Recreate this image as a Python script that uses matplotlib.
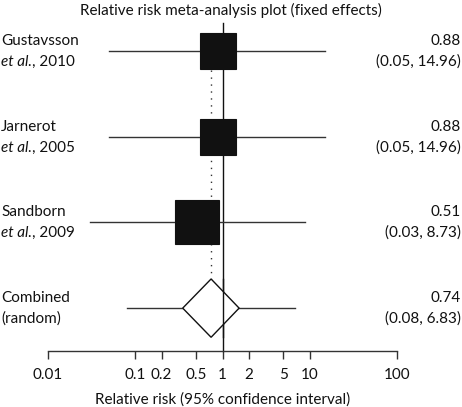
import matplotlib
matplotlib.use("Agg")
import matplotlib.pyplot as plt
import numpy as np

plt.rcParams['font.family'] = ['Lato', 'DejaVu Sans']

study_names = ["Gustavsson", "Jarnerot", "Sandborn", "Combined"]
study_sub = [("et al.", ", 2010"), ("et al.", ", 2005"), ("et al.", ", 2009"), (None, "(random)")]
rr = [0.88, 0.88, 0.51, 0.74]
ci_lo = [0.05, 0.05, 0.03, 0.08]
ci_hi = [14.96, 14.96, 8.73, 6.83]
weights = [29, 29, 42]          # relative weights (box area)
diamond_lo = 0.35
diamond_hi = 1.55
tick_vals = [0.01, 0.1, 0.2, 0.5, 1, 2, 5, 10, 100]
tick_labels = ["0.01", "0.1", "0.2", "0.5", "1", "2", "5", "10", "100"]
title = "Relative risk meta-analysis plot (fixed effects)"
xlabel = "Relative risk (95% confidence interval)"

W, H = 462, 407
fig = plt.figure(figsize=(W / 100, H / 100), dpi=100)
ax_left, ax_right = 48, 397
ax_top, ax_bot = 8, 351
ax = fig.add_axes([ax_left / W, 1 - ax_bot / H, (ax_right - ax_left) / W, (ax_bot - ax_top) / H])
ax.set_xscale('log')
ax.set_xlim(0.01, 100)
ax.set_ylim(3.5, -0.5)
for s in ['top', 'left', 'right']:
    ax.spines[s].set_visible(False)
ax.spines['bottom'].set_color('#333333')
ax.spines['bottom'].set_linewidth(1.0)
ax.set_yticks([])
ax.set_xticks(tick_vals)
ax.set_xticklabels(tick_labels)
ax.minorticks_off()
fs = 11
tc = '#111111'
ax.tick_params(axis='x', direction='out', length=6, width=1.0, color='#333333',
               labelsize=fs, pad=6, labelcolor=tc)
ax.set_xlabel(xlabel, fontsize=fs, labelpad=8, color=tc)

lc = '#333333'
rows = np.arange(len(rr))
# reference line at 1
ax.plot([1, 1], [-0.33, 3.5], color='#111111', lw=1.0, clip_on=False)
# dotted line at pooled estimate
ax.plot([rr[3], rr[3]], [0.22, 3 - 0.34], color='#333333', lw=1.0, ls=(0, (1, 4)))

for i in range(3):
    ax.plot([ci_lo[i], ci_hi[i]], [rows[i], rows[i]], color=lc, lw=1.0)
    side_px = 6.87 * np.sqrt(weights[i])
    ax.plot([rr[i]], [rows[i]], marker='s', color='#111111', markersize=side_px * 0.72,
            markeredgecolor='#111111', markeredgewidth=0.8, zorder=3)

# combined
ax.plot([ci_lo[3], ci_hi[3]], [rows[3], rows[3]], color=lc, lw=1.0)
hh = 0.34
ax.fill([diamond_lo, rr[3], diamond_hi, rr[3], diamond_lo],
        [rows[3], rows[3] - hh, rows[3], rows[3] + hh, rows[3]],
        facecolor='white', edgecolor='#111111', lw=1.0, zorder=3)
ax.plot([1, 1], [rows[3] - hh, rows[3] + hh], color='#111111', lw=1.0, zorder=4)

# text
fig.text(231 / W, 1 - 10 / H, title, ha='center', va='center', fontsize=fs, color=tc)
row_px = [51, 137, 222, 308]
for i in range(4):
    y1 = 1 - (row_px[i] - 10) / H
    y2 = 1 - (row_px[i] + 11) / H
    fig.text(1 / W, y1, study_names[i], ha='left', va='center', fontsize=fs, color=tc)
    it, rest = study_sub[i]
    if it:
        t = fig.text(1 / W, y2, it, ha='left', va='center', fontsize=fs, color=tc, style='italic')
        fig.canvas.draw()
        bb = t.get_window_extent()
        fig.text(bb.x1 / W, y2, rest, ha='left', va='center', fontsize=fs, color=tc)
    else:
        fig.text(1 / W, y2, rest, ha='left', va='center', fontsize=fs, color=tc)
    fig.text(461 / W, y1, f"{rr[i]:.2f}", ha='right', va='center', fontsize=fs, color=tc)
    fig.text(461 / W, y2, f"({ci_lo[i]:.2f}, {ci_hi[i]:.2f})", ha='right', va='center', fontsize=fs, color=tc)

fig.savefig("out.png", dpi=100)
